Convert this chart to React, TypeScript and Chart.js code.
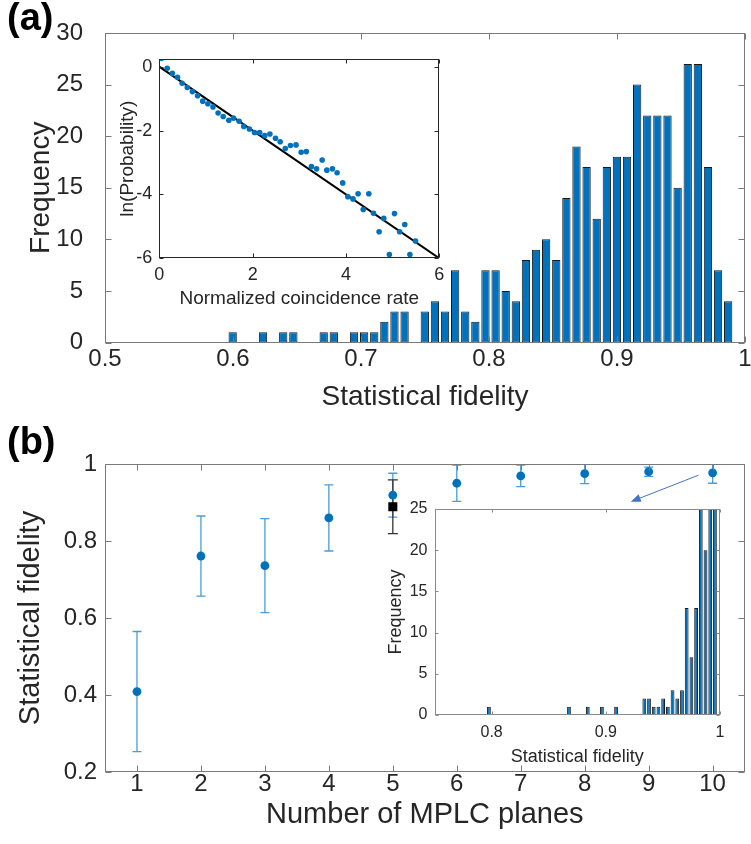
import React, { useEffect, useRef } from 'react';
import { Chart, registerables } from 'chart.js';
Chart.register(...registerables);

const FONT = "'Liberation Sans', Arial, Helvetica, sans-serif";
const TXT = '#262626';
const BLUE = '#0072BD';

// ---------- (a) main histogram ----------
const histABinStart = 0.5958;
const histABinWidth = 0.0079;
const histACounts = [1, 0, 0, 1, 0, 1, 1, 0, 0, 1, 1, 0, 1, 1, 1, 2, 3, 3, 0, 3, 4, 3, 7, 3, 2, 7, 7, 5, 4, 8, 9, 10, 8, 14, 19, 17, 12, 17, 18, 18, 25, 22, 22, 22, 15, 27, 27, 17, 7, 4];
const histAXTicks = [0.5, 0.6, 0.7, 0.8, 0.9, 1];
const histAXLabels = ['0.5', '0.6', '0.7', '0.8', '0.9', '1'];
const histAYTicks = [0, 5, 10, 15, 20, 25, 30];
const histAYLabels = ['0', '5', '10', '15', '20', '25', '30'];

// ---------- (a) inset ----------
const insetAX = [0.05, 0.17, 0.28, 0.39, 0.49, 0.6, 0.71, 0.82, 0.93, 1.04, 1.15, 1.26, 1.37, 1.49, 1.59, 1.71, 1.81, 1.93, 2.04, 2.15, 2.26, 2.37, 2.49, 2.59, 2.7, 2.81, 2.93, 3.04, 3.15, 3.26, 3.37, 3.49, 3.59, 3.71, 3.81, 3.93, 4.04, 4.15, 4.26, 4.37, 4.49, 4.59, 4.71, 4.81, 4.93, 5.04, 5.15, 5.26, 5.37, 5.49];
const insetAY = [0.26, -0.05, -0.21, -0.33, -0.52, -0.65, -0.78, -0.91, -1.08, -1.16, -1.26, -1.45, -1.56, -1.68, -1.61, -1.71, -1.87, -1.95, -2.06, -2.06, -2.16, -2.11, -2.24, -2.35, -2.56, -2.47, -2.45, -2.68, -2.66, -3.13, -3.2, -2.92, -3.24, -3.2, -3.32, -3.64, -4.07, -4.14, -3.98, -4.47, -3.98, -4.59, -5.17, -4.75, -5.88, -4.6, -5.17, -4.94, -5.88, -5.46];
const insetAFitX = [0, 6];
const insetAFitY = [0, -6];
const insetAXTicks = [0, 2, 4, 6];
const insetAXLabels = ['0', '2', '4', '6'];
const insetAYTicks = [-6, -4, -2, 0];
const insetAYLabels = ['-6', '-4', '-2', '0'];

// ---------- (b) main ----------
const planes = [1, 2, 3, 4, 5, 6, 7, 8, 9, 10];
const simFidelity = [0.409, 0.761, 0.736, 0.86, 0.919, 0.95, 0.969, 0.975, 0.98, 0.977];
const simErr = [0.156, 0.104, 0.122, 0.086, 0.057, 0.047, 0.028, 0.026, 0.012, 0.027];
const expPlanes = [5];
const expFidelity = [0.889];
const expErr = [0.07];
const bXTicks = [1, 2, 3, 4, 5, 6, 7, 8, 9, 10];
const bXLabels = ['1', '2', '3', '4', '5', '6', '7', '8', '9', '10'];
const bYTicks = [0.2, 0.4, 0.6, 0.8, 1];
const bYLabels = ['0.2', '0.4', '0.6', '0.8', '1'];
const arrowFrom = [9.78, 0.971];
const arrowTo = [8.72, 0.902];

// ---------- (b) inset histogram ----------
const histBBinStart = 0.7956;
const histBBinWidth = 0.004123;
const histBCounts = [1, 0, 0, 0, 0, 0, 0, 0, 0, 0, 0, 0, 0, 0, 0, 0, 0, 1, 0, 0, 0, 1, 0, 0, 1, 0, 0, 1, 0, 0, 0, 0, 0, 2, 2, 1, 1, 2, 1, 3, 2, 3, 13, 7, 13, 48, 20, 117, 160];
const histBXTicks = [0.8, 0.9, 1];
const histBXLabels = ['0.8', '0.9', '1'];
const histBYTicks = [0, 5, 10, 15, 20, 25];
const histBYLabels = ['0', '5', '10', '15', '20', '25'];

type AxisOpts = {
  ticks: number[]; labels: string[]; min: number; max: number; size: number; horizontal: boolean;
  tickFont: number; tickPad: number; title: string; titleFont: number; titlePad: number;
};

function axis(o: AxisOpts): any {
  return {
    type: 'linear',
    min: o.min,
    max: o.max,
    offset: false,
    grid: { display: false, drawTicks: false },
    border: { display: false },
    ticks: {
      autoSkip: false, maxRotation: 0, minRotation: 0, padding: o.tickPad, color: TXT,
      font: { family: FONT, size: o.tickFont, lineHeight: 1 },
      callback: (v: number) => {
        const i = o.ticks.findIndex((t) => Math.abs(t - v) < 1e-9);
        return i >= 0 ? o.labels[i] : '';
      },
    },
    afterBuildTicks: (s: any) => { s.ticks = o.ticks.map((v) => ({ value: v })); },
    afterFit: (s: any) => {
      if (o.horizontal) s.height = o.size; else s.width = o.size;
      s.paddingLeft = 0; s.paddingRight = 0; s.paddingTop = 0; s.paddingBottom = 0;
    },
    title: {
      display: true, text: o.title, color: TXT,
      font: { family: FONT, size: o.titleFont, lineHeight: 1 },
      padding: o.horizontal ? { top: 0, bottom: o.titlePad } : { top: o.titlePad, bottom: 0 },
    },
  };
}

function framePlugin(len: number, color: string): any {
  return {
    id: 'frame',
    afterDatasetsDraw(chart: any) {
      const { ctx, chartArea: a, scales } = chart;
      const L = Math.round(a.left) + 0.5, R = Math.round(a.right) - 0.5;
      const T = Math.round(a.top) + 0.5, B = Math.round(a.bottom) - 0.5;
      ctx.save();
      ctx.strokeStyle = color;
      ctx.lineWidth = 1;
      ctx.strokeRect(L, T, R - L, B - T);
      ctx.beginPath();
      scales.x.ticks.forEach((t: any) => {
        const p = Math.round(scales.x.getPixelForValue(t.value)) + 0.5;
        ctx.moveTo(p, B); ctx.lineTo(p, B - len);
        ctx.moveTo(p, T); ctx.lineTo(p, T + len);
      });
      scales.y.ticks.forEach((t: any) => {
        const p = Math.round(scales.y.getPixelForValue(t.value)) + 0.5;
        ctx.moveTo(L, p); ctx.lineTo(L + len, p);
        ctx.moveTo(R, p); ctx.lineTo(R - len, p);
      });
      ctx.stroke();
      ctx.restore();
    },
  };
}

const errorBarPlugin: any = {
  id: 'errbars',
  beforeDatasetsDraw(chart: any) {
    const { ctx, chartArea: a, scales: { x, y } } = chart;
    ctx.save();
    ctx.beginPath();
    ctx.rect(a.left, a.top, a.right - a.left, a.bottom - a.top);
    ctx.clip();
    const draw = (xs: number[], ys: number[], es: number[], color: string, cap: number) => {
      ctx.strokeStyle = color;
      ctx.lineWidth = 1.3;
      ctx.beginPath();
      xs.forEach((xv, i) => {
        const px = x.getPixelForValue(xv);
        const top = y.getPixelForValue(ys[i] + es[i]);
        const bot = y.getPixelForValue(ys[i] - es[i]);
        ctx.moveTo(px, top); ctx.lineTo(px, bot);
        ctx.moveTo(px - cap, top); ctx.lineTo(px + cap, top);
        ctx.moveTo(px - cap, bot); ctx.lineTo(px + cap, bot);
      });
      ctx.stroke();
    };
    draw(planes, simFidelity, simErr, '#4a9bd8', 4.5);
    draw(expPlanes, expFidelity, expErr, '#333333', 5);
    ctx.restore();
  },
};

const arrowPlugin: any = {
  id: 'arrow',
  afterDatasetsDraw(chart: any) {
    const { ctx, scales: { x, y } } = chart;
    const x0 = x.getPixelForValue(arrowFrom[0]), y0 = y.getPixelForValue(arrowFrom[1]);
    const x1 = x.getPixelForValue(arrowTo[0]), y1 = y.getPixelForValue(arrowTo[1]);
    const ang = Math.atan2(y1 - y0, x1 - x0);
    const hl = 10, hw = 4;
    const bx = x1 - hl * Math.cos(ang), by = y1 - hl * Math.sin(ang);
    ctx.save();
    ctx.strokeStyle = '#4472C4';
    ctx.fillStyle = '#4472C4';
    ctx.lineWidth = 1;
    ctx.beginPath(); ctx.moveTo(x0, y0); ctx.lineTo(bx, by); ctx.stroke();
    ctx.beginPath();
    ctx.moveTo(x1, y1);
    ctx.lineTo(bx + hw * Math.sin(ang), by - hw * Math.cos(ang));
    ctx.lineTo(bx - hw * Math.sin(ang), by + hw * Math.cos(ang));
    ctx.closePath(); ctx.fill();
    ctx.restore();
  },
};

const baseOpts = {
  responsive: false,
  animation: false,
  devicePixelRatio: 1,
  events: [],
  plugins: { legend: { display: false }, tooltip: { enabled: false } },
};

function histData(start: number, width: number, counts: number[]) {
  return counts
    .map((c, i) => ({ x: start + (i + 0.5) * width, y: c }))
    .filter((d) => d.y > 0);
}

function configMainA(): any {
  return {
    type: 'bar',
    data: {
      datasets: [{
        data: histData(histABinStart, histABinWidth, histACounts),
        backgroundColor: BLUE, borderColor: '#1a1a1a', borderWidth: 1, borderSkipped: false,
        barPercentage: 0.82, categoryPercentage: 1, clip: 0,
      }],
    },
    options: {
      ...baseOpts,
      layout: { padding: { top: 33, left: 0, right: 6, bottom: 421.5 } },
      scales: {
        x: axis({ ticks: histAXTicks, labels: histAXLabels, min: 0.5, max: 1, size: 80, horizontal: true, tickFont: 24, tickPad: 5, title: 'Statistical fidelity', titleFont: 28, titlePad: 11 }),
        y: axis({ ticks: histAYTicks, labels: histAYLabels, min: 0, max: 30, size: 105, horizontal: false, tickFont: 24, tickPad: 22, title: 'Frequency', titleFont: 28, titlePad: 27 }),
      },
    },
    plugins: [framePlugin(6, '#7a7a7a')],
  };
}

function configInsetA(): any {
  return {
    type: 'scatter',
    data: {
      datasets: [
        {
          data: insetAX.map((v, i) => ({ x: v, y: insetAY[i] })),
          backgroundColor: BLUE, borderColor: BLUE, pointRadius: 2.8, borderWidth: 0,
        },
        {
          data: insetAFitX.map((v, i) => ({ x: v, y: insetAFitY[i] })),
          showLine: true, borderColor: '#000000', borderWidth: 2, pointRadius: 0, fill: false,
        },
      ],
    },
    options: {
      ...baseOpts,
      layout: { padding: { top: 59, left: 110, right: 311.7, bottom: 530.7 } },
      scales: {
        x: axis({ ticks: insetAXTicks, labels: insetAXLabels, min: 0, max: 6, size: 55, horizontal: true, tickFont: 18, tickPad: 8, title: 'Normalized coincidence rate', titleFont: 19, titlePad: 5 }),
        y: axis({ ticks: insetAYTicks, labels: insetAYLabels, min: -6, max: 0.24, size: 49.3, horizontal: false, tickFont: 18, tickPad: 7, title: 'ln(Probability)', titleFont: 19, titlePad: 8.5 }),
      },
    },
    plugins: [framePlugin(4, '#262626')],
  };
}

function configMainB(): any {
  return {
    type: 'scatter',
    data: {
      datasets: [
        {
          data: planes.map((v, i) => ({ x: v, y: simFidelity[i] })),
          backgroundColor: BLUE, borderColor: BLUE, pointRadius: 4.4, borderWidth: 0,
        },
        {
          data: expPlanes.map((v, i) => ({ x: v, y: expFidelity[i] })),
          backgroundColor: '#000000', borderColor: '#000000', pointStyle: 'rect', pointRadius: 6.4, borderWidth: 0,
        },
      ],
    },
    options: {
      ...baseOpts,
      layout: { padding: { top: 464, left: 0, right: 4.3, bottom: 0 } },
      scales: {
        x: axis({ ticks: bXTicks, labels: bXLabels, min: 0.5, max: 10.5, size: 72, horizontal: true, tickFont: 24, tickPad: 0, title: 'Number of MPLC planes', titleFont: 29, titlePad: 15 }),
        y: axis({ ticks: bYTicks, labels: bYLabels, min: 0.2, max: 1, size: 105, horizontal: false, tickFont: 24, tickPad: 8, title: 'Statistical fidelity', titleFont: 29, titlePad: 16.5 }),
      },
    },
    plugins: [errorBarPlugin, framePlugin(6, '#7a7a7a'), arrowPlugin],
  };
}

function configInsetB(): any {
  return {
    type: 'bar',
    data: {
      datasets: [{
        data: histData(histBBinStart, histBBinWidth, histBCounts),
        backgroundColor: BLUE, borderColor: '#1a1a1a', borderWidth: 1, borderSkipped: false,
        barPercentage: 0.8, categoryPercentage: 1, clip: 0,
      }],
    },
    options: {
      ...baseOpts,
      layout: { padding: { top: 509, left: 380, right: 31, bottom: 69 } },
      scales: {
        x: axis({ ticks: histBXTicks, labels: histBXLabels, min: 0.75, max: 1, size: 60, horizontal: true, tickFont: 16, tickPad: 10, title: 'Statistical fidelity', titleFont: 18, titlePad: 9 }),
        y: axis({ ticks: histBYTicks, labels: histBYLabels, min: 0, max: 25, size: 54.5, horizontal: false, tickFont: 16, tickPad: 7, title: 'Frequency', titleFont: 18, titlePad: 7 }),
      },
    },
    plugins: [framePlugin(3, '#8a8a8a')],
  };
}

function ChartLayer({ make }: { make: () => any }) {
  const ref = useRef<HTMLCanvasElement | null>(null);
  useEffect(() => {
    if (!ref.current) return;
    const c = new Chart(ref.current, make());
    return () => c.destroy();
  }, []);
  return (
    <canvas ref={ref} width={751} height={844}
      style={{ position: 'absolute', left: 0, top: 0, width: 751, height: 844 }} />
  );
}

const panelLabel: React.CSSProperties = {
  position: 'absolute', fontFamily: FONT, fontWeight: 'bold', fontSize: 38, lineHeight: '38px', color: '#000',
};

export default function App() {
  return (
    <div style={{ position: 'absolute', left: 0, top: 0, width: 751, height: 844, background: '#fff', overflow: 'hidden' }}>
      <ChartLayer make={configMainA} />
      <ChartLayer make={configInsetA} />
      <ChartLayer make={configMainB} />
      <ChartLayer make={configInsetB} />
      <div style={{ ...panelLabel, left: 7, top: -2 }}>(a)</div>
      <div style={{ ...panelLabel, left: 7, top: 422 }}>(b)</div>
    </div>
  );
}
